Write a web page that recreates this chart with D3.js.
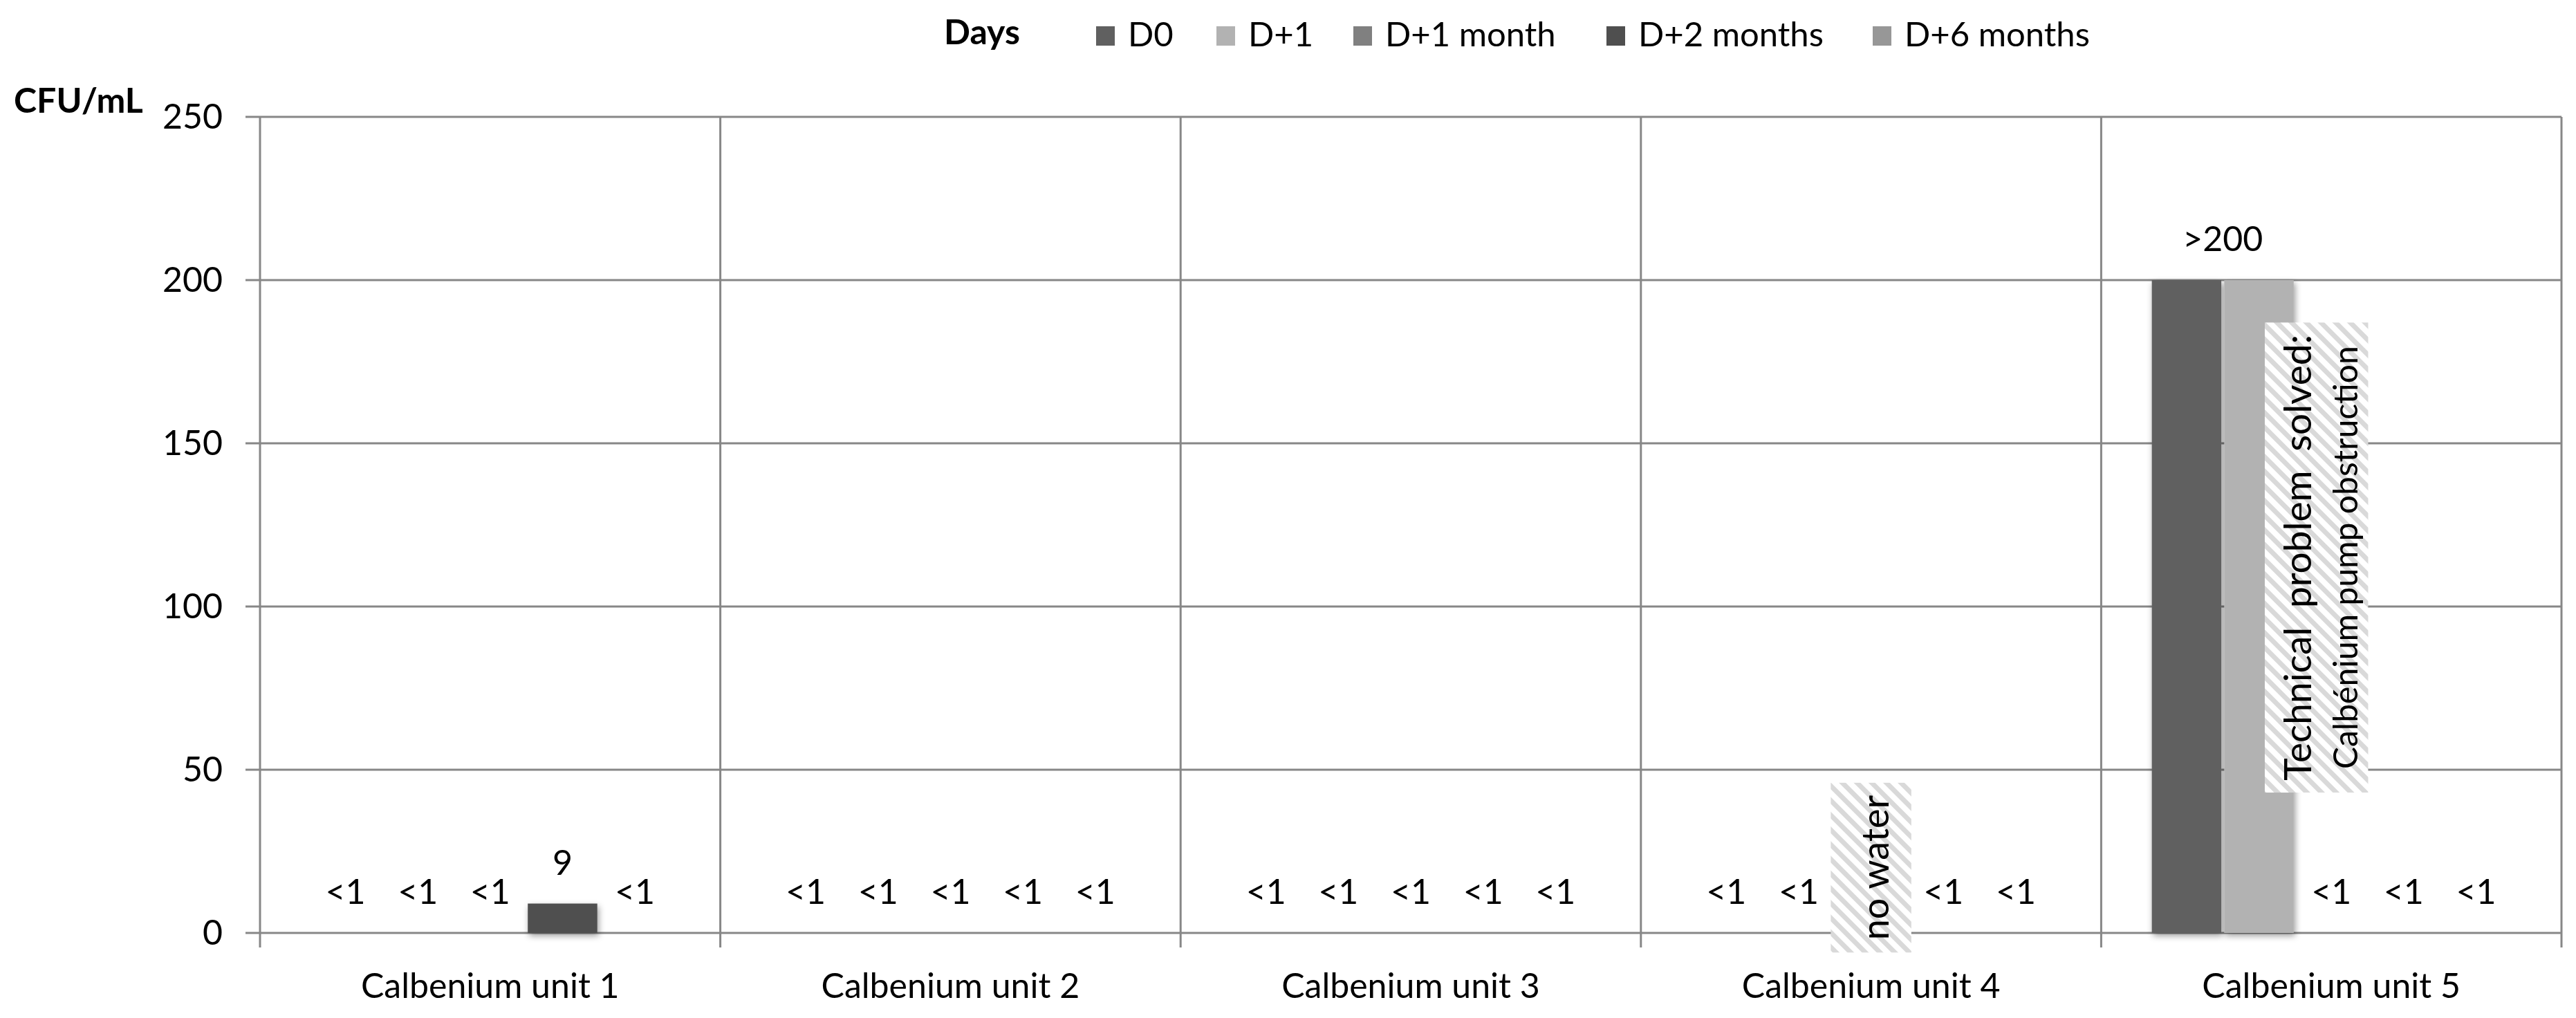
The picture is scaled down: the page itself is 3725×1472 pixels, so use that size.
<!DOCTYPE html>
<html><head><meta charset="utf-8">
<script src="https://cdn.jsdelivr.net/npm/d3@7"></script>
<style>
body{margin:0;background:#fff}
svg{display:block}
text{font-family:Lato,"Open Sans",sans-serif;fill:#000}
</style>
</head><body>
<svg id="chart" width="3725" height="1472"></svg>
<script>
// ---------- data ----------
const categories = ["Calbenium unit 1","Calbenium unit 2","Calbenium unit 3","Calbenium unit 4","Calbenium unit 5"];
const seriesNames = ["D0","D+1","D+1 month","D+2 months","D+6 months"];
const seriesColors = ["#606060","#b2b2b2","#808080","#4f4f4f","#979797"];
// values (CFU/mL); "<1" drawn as 0, ">200" drawn as 200, null = no sample
const valuesD0  = [0, 0, 0, 0, 200];
const valuesD1  = [0, 0, 0, 0, 200];
const valuesD1m = [0, 0, 0, null, 0];
const valuesD2m = [9, 0, 0, 0, 0];
const valuesD6m = [0, 0, 0, 0, 0];
const labelsD0  = ["<1","<1","<1","<1",">200"];
const labelsD1  = ["<1","<1","<1","<1",">200"];
const labelsD1m = ["<1","<1","<1","","<1"];
const labelsD2m = ["9","<1","<1","<1","<1"];
const labelsD6m = ["<1","<1","<1","<1","<1"];
const yTicks = [0, 50, 100, 150, 200, 250];
const yTitle = "CFU/mL";
const legendTitle = "Days";
const noteCategories = ["Calbenium unit 4","Calbenium unit 5"];
const noteSeries = ["D+1 month","D+1 month"];
const noteTexts = [["no water"],["Technical problem solved:","Calbénium pump obstruction"]];
const noteFrom = [-6, 43];
const noteTo = [46, 187];

// ---------- layout ----------
const allValues = [valuesD0, valuesD1, valuesD1m, valuesD2m, valuesD6m];
const allLabels = [labelsD0, labelsD1, labelsD1m, labelsD2m, labelsD6m];
const L = 376, R = 3704, T = 169, B = 1349;
const svg = d3.select("#chart");
const defs = svg.append("defs");

const f = defs.append("filter").attr("id","shadow").attr("x","-30%").attr("y","-30%").attr("width","160%").attr("height","160%");
f.append("feDropShadow").attr("dx",2).attr("dy",4).attr("stdDeviation",5).attr("flood-color","#000").attr("flood-opacity",0.4);

const pat = defs.append("pattern").attr("id","hatch").attr("patternUnits","userSpaceOnUse")
  .attr("width",15).attr("height",15).attr("patternTransform","rotate(-45)");
pat.append("rect").attr("width",15).attr("height",15).attr("fill","#fff");
pat.append("rect").attr("width",7).attr("height",15).attr("fill","#d9d9d9");

const x0 = d3.scaleBand().domain(categories).range([L, R]).paddingInner(0).paddingOuter(0);
const x1 = d3.scaleBand().domain(seriesNames).range([0, x0.bandwidth()]).paddingInner(0.04).paddingOuter(0.7);
const y = d3.scaleLinear().domain([0, 250]).range([B, T]);

// horizontal gridlines
svg.append("g").selectAll("line").data(yTicks).join("line")
  .attr("x1", L - 21).attr("x2", R).attr("y1", d => y(d)).attr("y2", d => y(d))
  .attr("stroke","#878787").attr("stroke-width",3);

// vertical category separators (+ ticks below axis)
const bounds = categories.map(c => x0(c)).concat([x0.range()[1]]);
svg.append("g").selectAll("line").data(bounds).join("line")
  .attr("x1", d => d).attr("x2", d => d).attr("y1", T).attr("y2", B + 21)
  .attr("stroke","#878787").attr("stroke-width",3);

// bars
const flat = [];
categories.forEach((c, ci) => seriesNames.forEach((s, si) => {
  flat.push({c, s, si, v: allValues[si][ci], label: allLabels[si][ci]});
}));
svg.append("g").attr("filter","url(#shadow)").selectAll("rect")
  .data(flat.filter(d => d.v !== null && d.v > 0)).join("rect")
  .attr("x", d => x0(d.c) + x1(d.s)).attr("width", x1.bandwidth())
  .attr("y", d => y(d.v)).attr("height", d => y(0) - y(d.v))
  .attr("fill", d => seriesColors[d.si]);

// y axis labels
const yAxis = d3.axisLeft(y).tickValues(yTicks).tickSize(0).tickPadding(54);
const gy = svg.append("g").attr("transform", `translate(${L},0)`).call(yAxis);
gy.select(".domain").remove();
gy.selectAll("text").style("font-size","50px").style("font-family","Lato").attr("fill","#000");

// x axis labels
const xAxis = d3.axisBottom(x0).tickSize(0).tickPadding(58);
const gx = svg.append("g").attr("transform", `translate(0,${B})`).call(xAxis);
gx.select(".domain").remove();
gx.selectAll("text").style("font-size","50px").style("font-family","Lato").attr("fill","#000");

// data labels (identical adjacent ">" labels in a category are merged and centred)
const groups = [];
categories.forEach((c, ci) => {
  let cur = null;
  seriesNames.forEach((s, si) => {
    const lab = allLabels[si][ci], v = allValues[si][ci];
    if (!lab) { cur = null; return; }
    const cx = x0(c) + x1(s) + x1.bandwidth()/2;
    if (cur && cur.label === lab && lab.startsWith(">")) { cur.xs.push(cx); }
    else { cur = {label: lab, xs: [cx], v: v || 0}; groups.push(cur); }
  });
});
svg.append("g").selectAll("text").data(groups).join("text")
  .attr("x", d => d3.mean(d.xs)).attr("y", d => y(d.v) - 42)
  .attr("text-anchor","middle").style("font-size","50px").text(d => d.label);

// y title
svg.append("text").attr("x", 20).attr("y", 163).style("font-size","50px").style("font-weight","bold").text(yTitle);

// notes (hatched boxes)
const noteDx = [[-8, 8], [-46, 3]];
noteCategories.forEach((c, i) => {
  const sx = x0(c) + x1(noteSeries[i]);
  const bx0 = sx + noteDx[i][0], bx1 = sx + x1.bandwidth() + noteDx[i][1];
  const by0 = y(noteTo[i]), by1 = y(noteFrom[i]);
  const g = svg.append("g");
  g.append("rect").attr("x", bx0).attr("y", by0).attr("width", bx1 - bx0).attr("height", by1 - by0).attr("fill","url(#hatch)");
  const cy = (by0 + by1)/2;
  const mk = (t, cx, size) => g.append("text").attr("transform", `translate(${cx},${cy}) rotate(-90)`)
      .attr("text-anchor","middle").attr("dominant-baseline","central")
      .style("font-size", size + "px").text(t);
  if (noteTexts[i].length === 1) {
    mk(noteTexts[i][0], (bx0 + bx1)/2 + 5, 54);
  } else {
    // second line sized to its measured width
    const t2 = mk(noteTexts[i][1], bx0 + 116, 46);
    const s2 = 46 * 612 / t2.node().getComputedTextLength();
    t2.style("font-size", s2 + "px");
    // first line: words justified across the box length
    const words = noteTexts[i][0].split(" ");
    const lineG = g.append("g").attr("transform", `translate(${bx0 + 46},${cy}) rotate(-90)`);
    const wt = words.map(w => lineG.append("text").attr("dominant-baseline","central").style("font-size","50px").text(w));
    const sum = d3.sum(wt, t => t.node().getComputedTextLength());
    const s1 = 50 * 590 / sum;
    wt.forEach(t => t.style("font-size", s1 + "px"));
    const widths = wt.map(t => t.node().getComputedTextLength());
    const total = 645, gap = (total - d3.sum(widths)) / (words.length - 1);
    let pos = -total / 2;
    wt.forEach((t, k) => { t.attr("x", pos); pos += widths[k] + gap; });
  }
});

// legend
const legendX = [1585, 1759, 1957, 2323, 2708];
const lg = svg.append("g");
lg.append("text").attr("x", 1365).attr("y", 64).style("font-size","50px").style("font-weight","bold").text(legendTitle);
seriesNames.forEach((s, i) => {
  lg.append("rect").attr("x", legendX[i]).attr("y", 38).attr("width", 27).attr("height", 28).attr("fill", seriesColors[i]);
  lg.append("text").attr("x", legendX[i] + 46).attr("y", 67).style("font-size","49px").text(s);
});
</script>
</body></html>
